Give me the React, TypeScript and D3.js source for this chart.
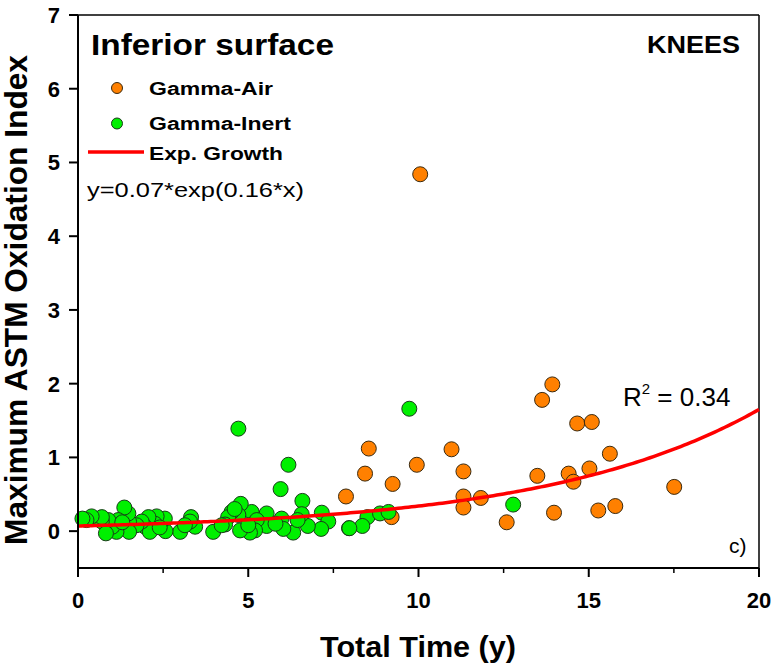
import React from "react";
import * as d3 from "d3";

const airX = [10.05, 13.93, 13.63, 14.66, 15.09, 8.54, 10.97, 15.62, 9.95, 8.43, 11.32, 9.24, 7.87, 13.49, 14.41, 15.02, 14.55, 11.32, 11.83, 11.32, 17.51, 12.59, 13.98, 15.28, 15.78, 9.21];
const airY = [4.84, 1.99, 1.78, 1.46, 1.48, 1.12, 1.11, 1.05, 0.90, 0.78, 0.81, 0.64, 0.47, 0.75, 0.78, 0.85, 0.67, 0.47, 0.45, 0.32, 0.60, 0.12, 0.25, 0.28, 0.34, 0.19];

const inertX = [4.71, 6.18, 5.95, 6.59, 7.96, 7.16, 7.35, 7.14, 6.75, 6.57, 6.32, 6.45, 5.98, 6.03, 5.54, 5.54, 5.10, 5.25, 5.20, 5.05, 4.78, 4.71, 4.51, 4.41, 4.32, 4.76, 5.00, 3.97, 4.22, 3.44, 3.32, 3.29, 3.00, 3.14, 2.57, 2.55, 2.31, 2.26, 2.07, 1.97, 2.11, 1.87, 1.72, 1.50, 1.48, 1.36, 1.50, 1.18, 1.13, 1.01, 0.89, 0.70, 0.70, 0.40, 0.25, 0.13, 0.82, 9.73, 12.78, 8.50, 8.87, 9.12, 8.35, 7.97, 4.60, 5.80, 2.40, 1.30];
const inertY = [1.39, 0.90, 0.57, 0.41, 0.04, 0.25, 0.13, 0.03, 0.07, 0.23, -0.02, 0.15, 0.17, 0.03, 0.24, 0.07, 0.26, 0.15, 0.01, -0.02, 0.37, 0.22, 0.26, 0.19, 0.09, 0.01, 0.08, -0.01, 0.08, 0.06, 0.19, 0.13, -0.01, 0.08, 0.00, 0.17, 0.20, 0.10, 0.19, 0.06, -0.01, 0.13, 0.08, 0.13, 0.24, 0.32, -0.01, 0.15, -0.01, 0.06, 0.15, 0.13, 0.19, 0.20, 0.15, 0.17, -0.03, 1.66, 0.36, 0.19, 0.24, 0.26, 0.07, 0.04, 0.30, 0.10, 0.05, 0.12];

const fitA = 0.07;
const fitB = 0.158;

const xTicks = [0, 5, 10, 15, 20];
const xMinorTicks = [2.5, 7.5, 12.5, 17.5];
const yTicks = [0, 1, 2, 3, 4, 5, 6, 7];

const FONT = "'Liberation Sans', Arial, Helvetica, sans-serif";
const ORANGE = "#FF8000";
const GREEN = "#00F000";

export default function App() {
  const W = 775, H = 664;
  const x = d3.scaleLinear().domain([0, 20]).range([78, 759]);
  const y = d3.scaleLinear().domain([-0.5, 7]).range([568, 15]);
  const fitData = d3.range(0, 20.001, 0.1).map((t) => [t, fitA * Math.exp(fitB * t)] as [number, number]);
  const line = d3.line<[number, number]>().x((d) => x(d[0])).y((d) => y(d[1]))(fitData) || "";
  const r = 7.5;
  const [x0, x1] = x.range();
  const [yb, yt] = y.range();

  return (
    <svg width={W} height={H} style={{ position: "absolute", left: 0, top: 0, background: "#fff" }} fontFamily={FONT}>
      <rect width={W} height={H} fill="#fff" />
      <line x1={x0} x2={x1} y1={yt} y2={yt} stroke="#000" strokeWidth={1.5} />
      <line x1={x1} x2={x1} y1={yt} y2={yb} stroke="#000" strokeWidth={1.5} />
      {airX.map((v, i) => (
        <circle key={"a" + i} cx={x(v)} cy={y(airY[i])} r={r} fill={ORANGE} stroke="#3a2a10" strokeWidth={1} />
      ))}
      {inertX.map((v, i) => (
        <circle key={"g" + i} cx={x(v)} cy={y(inertY[i])} r={r} fill={GREEN} stroke="#1a3a1a" strokeWidth={1} />
      ))}
      <path d={line} fill="none" stroke="#FF0000" strokeWidth={3.5} />
      <line x1={x0} x2={x1} y1={yb} y2={yb} stroke="#000" strokeWidth={2} />
      <line x1={x0} x2={x0} y1={yt} y2={yb} stroke="#000" strokeWidth={2} />
      {xTicks.map((t) => (
        <g key={"xt" + t}>
          <line x1={x(t)} x2={x(t)} y1={yb} y2={yb + 9} stroke="#000" strokeWidth={2} />
          <text x={x(t)} y={608} textAnchor="middle" fontSize={22} fontWeight="bold">{t}</text>
        </g>
      ))}
      {xMinorTicks.map((t) => (
        <line key={"xm" + t} x1={x(t)} x2={x(t)} y1={yb} y2={yb + 5} stroke="#000" strokeWidth={1.5} />
      ))}
      {yTicks.map((t) => (
        <g key={"yt" + t}>
          <line x1={x0 - 9} x2={x0} y1={y(t)} y2={y(t)} stroke="#000" strokeWidth={2} />
          <text x={60} y={y(t) + 8} textAnchor="end" fontSize={22} fontWeight="bold">{t}</text>
        </g>
      ))}
      <text x={418} y={657} textAnchor="middle" fontSize={30} fontWeight="bold" textLength={196} lengthAdjust="spacingAndGlyphs">Total Time (y)</text>
      <text transform="translate(27,300) rotate(-90)" textAnchor="middle" fontSize={31} fontWeight="bold" textLength={490} lengthAdjust="spacingAndGlyphs">Maximum ASTM Oxidation Index</text>
      <text x={91} y={55} fontSize={30} fontWeight="bold" textLength={243} lengthAdjust="spacingAndGlyphs">Inferior surface</text>
      <text x={647} y={53} fontSize={24} fontWeight="bold" textLength={93} lengthAdjust="spacingAndGlyphs">KNEES</text>
      <circle cx={117} cy={88} r={5.5} fill={ORANGE} stroke="#3a2a10" strokeWidth={1} />
      <text x={149} y={95} fontSize={18} fontWeight="bold" textLength={124} lengthAdjust="spacingAndGlyphs">Gamma-Air</text>
      <circle cx={117} cy={123.5} r={5.5} fill={GREEN} stroke="#1a3a1a" strokeWidth={1} />
      <text x={149} y={130} fontSize={18} fontWeight="bold" textLength={142} lengthAdjust="spacingAndGlyphs">Gamma-Inert</text>
      <line x1={88} x2={144} y1={152} y2={152} stroke="#FF0000" strokeWidth={3.5} />
      <text x={149} y={160} fontSize={18} fontWeight="bold" textLength={134} lengthAdjust="spacingAndGlyphs">Exp. Growth</text>
      <text x={87} y={197} fontSize={21} textLength={217} lengthAdjust="spacingAndGlyphs">y=0.07*exp(0.16*x)</text>
      <text x={623} y={406} fontSize={26}>
        R<tspan fontSize={15} dy={-12}>2</tspan><tspan dy={12}> = 0.34</tspan>
      </text>
      <text x={729} y={553} fontSize={21}>c)</text>
    </svg>
  );
}
